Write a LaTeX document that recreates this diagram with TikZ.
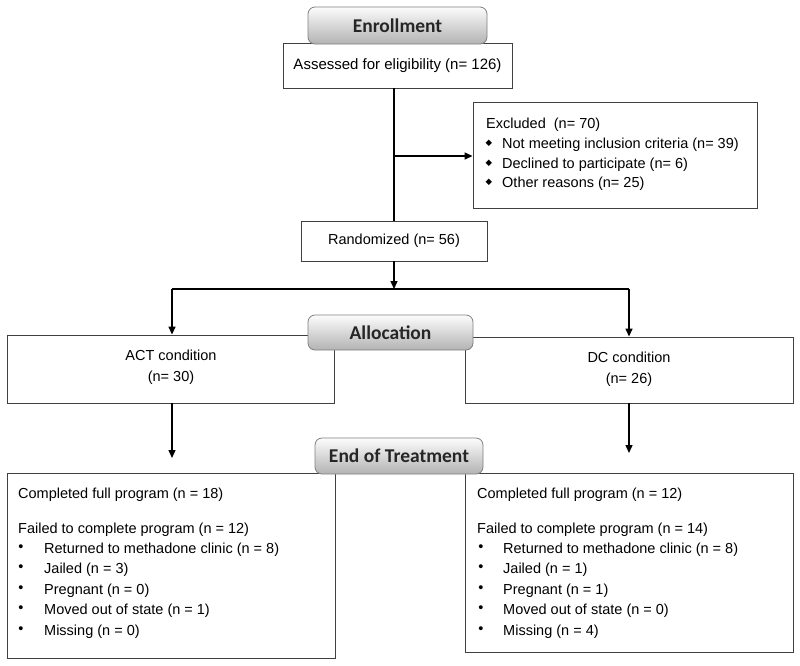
\documentclass[tikz,border=0pt]{standalone}
\usepackage{fontspec}
\setmainfont{Liberation Sans}
\newfontfamily\tabfont{Carlito}
\newfontfamily\symfont{DejaVu Sans}
\usetikzlibrary{arrows.meta}
\begin{document}
\begin{tikzpicture}[x=1pt,y=-1pt,
  box/.style={draw=black!75,line width=0.9pt,fill=white,inner sep=0pt,
    font=\fontsize{14.5}{17}\selectfont,align=center},
  tab/.style={draw=black!50,line width=0.8pt,rounded corners=7pt,
    top color=gray!2,bottom color=gray!60,inner sep=0pt,
    font=\tabfont\bfseries\fontsize{19.5}{22}\selectfont,text=black!85},
  txt/.style={anchor=west,inner sep=0pt,font=\fontsize{14.5}{17}\selectfont,
    text height=10.4pt,text depth=0pt},
  ctxt/.style={inner sep=0pt,font=\fontsize{14.5}{17}\selectfont,
    text height=10.4pt,text depth=0pt},
  bul/.style={inner sep=0pt,font=\fontsize{14.5}{17}\selectfont},
  dia/.style={inner sep=0pt,font=\symfont\fontsize{8.5}{9}\selectfont},
  conn/.style={line width=1.4pt,black},
  arr/.style={conn,-{Triangle[length=8pt,width=7pt]}}]
\useasboundingbox (0,0) rectangle (800,665);
\fill[white] (0,0) rectangle (800,665);

% boxes
\node[box,minimum width=229pt,minimum height=45pt,font=\fontsize{15}{18}\selectfont] (assess) at (397.5,65.5) {Assessed for eligibility (n= 126)};
\node[box,minimum width=186pt,minimum height=40pt] (rand) at (394,241) {Randomized (n= 56)};
\node[box,minimum width=284pt,minimum height=106pt] (excl) at (615,155) {};
\node[box,minimum width=327pt,minimum height=68pt] (act) at (170.5,369) {};
\node[box,minimum width=328pt,minimum height=66pt] (dc) at (629,370) {};
\node[box,minimum width=328pt,minimum height=185pt] (actres) at (171,565.5) {};
\node[box,minimum width=328pt,minimum height=179pt] (dcres) at (629,562.5) {};

% excluded text
\node[txt] (ex0) at (486,123) {Excluded\ \ (n= 70)};
\node[dia] (exb1) at (489,143) {◆};
\node[dia] (exb2) at (489,163) {◆};
\node[dia] (exb3) at (489,182) {◆};
\node[txt] (ex1) at (502,143) {Not meeting inclusion criteria (n= 39)};
\node[txt] (ex2) at (502,163) {Declined to participate (n= 6)};
\node[txt] (ex3) at (502,182) {Other reasons (n= 25)};

% condition text
\node[ctxt] (actt1) at (171,355) {ACT condition};
\node[ctxt] (actt2) at (171,376) {(n= 30)};
\node[ctxt] (dct1) at (629,357) {DC condition};
\node[ctxt] (dct2) at (629,378) {(n= 26)};

% results text
\node[txt] (la) at (18,493) {Completed full program (n = 18)};
\node[txt] (lb) at (18,528) {Failed to complete program (n = 12)};
\foreach \t [count=\i] in {Returned to methadone clinic (n = 8),Jailed (n = 3),Pregnant (n = 0),Moved out of state (n = 1),Missing (n = 0)}{
  \node[bul] (lbul\i) at (21,{527.8+20.4*\i}) {•};
  \node[txt] (lt\i) at (44,{527.8+20.4*\i}) {\t};
}
\node[txt] (ra) at (477,493) {Completed full program (n = 12)};
\node[txt] (rb) at (477,528) {Failed to complete program (n = 14)};
\foreach \t [count=\i] in {Returned to methadone clinic (n = 8),Jailed (n = 1),Pregnant (n = 1),Moved out of state (n = 0),Missing (n = 4)}{
  \node[bul] (rbul\i) at (481,{527.8+20.4*\i}) {•};
  \node[txt] (rt\i) at (503,{527.8+20.4*\i}) {\t};
}

% connectors
\draw[conn] (rand.north |- assess.south) -- (rand.north);
\coordinate (exc0) at (394,156);
\draw[arr] (exc0) -- (exc0 -| excl.west);
\coordinate (split) at (394,289);
\draw[arr] (rand.south) -- (split);
\coordinate (hl) at (172,289);
\coordinate (hr) at (629,289);
\draw[conn] (hl) -- (hr);
\draw[arr] (hl) -- (hl |- act.north);
\draw[arr] (hr) -- (hr |- dc.north);
\coordinate (actend) at (172,458);
\coordinate (dcend) at (629,453);
\draw[arr] (actend |- act.south) -- (actend);
\draw[arr] (dcend |- dc.south) -- (dcend);

% tabs
\node[tab,minimum width=179pt,minimum height=37pt] (enroll) at (397.5,25.5) {Enrollment};
\node[tab,minimum width=165pt,minimum height=35pt] (alloc) at (390.5,332.5) {Allocation};
\node[tab,minimum width=168pt,minimum height=36pt] (eot) at (399,456) {End of Treatment};
\end{tikzpicture}
\end{document}
